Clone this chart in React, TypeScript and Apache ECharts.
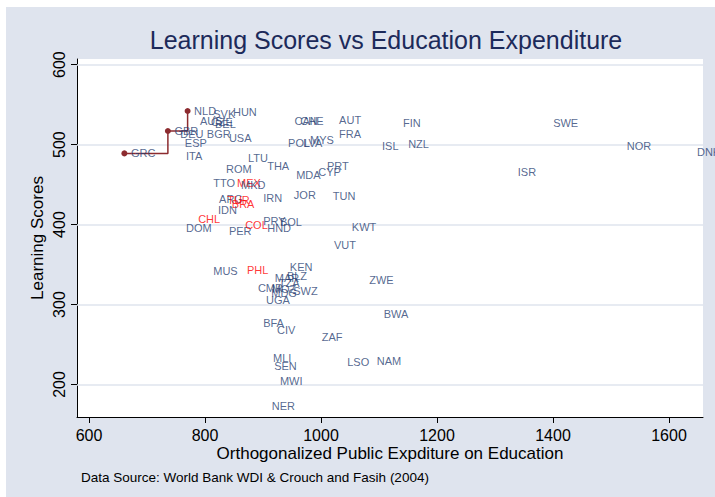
import React, { useEffect, useRef } from "react";
import * as echarts from "echarts";

const countries = [
  "GRC", "GBR", "NLD", "HUN", "AUS", "SVK", "CZE", "BEL", "DEU", "BGR", "USA", "ESP", "ITA",
  "LTU", "THA", "ROM", "TTO", "MEX", "MKD", "ARG", "TUR", "BRA", "IDN", "IRN", "JOR", "TUN",
  "MDA", "CYP", "PRT", "CHL", "DOM", "PER", "COL", "PRY", "BOL", "HND", "KWT", "VUT", "MUS",
  "PHL", "KEN", "BLZ", "MAR", "TZA", "CMR", "MOZ", "MDG", "SWZ", "UGA", "BFA", "CIV", "ZAF",
  "ZWE", "BWA", "LSO", "NAM", "MLI", "SEN", "MWI", "NER", "AUT", "FRA", "CAN", "CHE", "POL",
  "LVA", "MYS", "FIN", "ISL", "NZL", "SWE", "NOR", "DNK", "ISR",
];
const expenditure = [
  661, 736, 770, 837, 780, 803, 799, 806, 746, 792, 830, 754, 756,
  863, 896, 825, 803, 844, 851, 813, 827, 835, 811, 889, 942, 1009,
  946, 984, 999, 777, 756, 830, 858, 889, 918, 896, 1042, 1011, 803,
  861, 935, 930, 909, 916, 880, 904, 903, 941, 894, 889, 913, 990,
  1072, 1097, 1034, 1085, 906, 908, 918, 904, 1020, 1020, 943, 953, 932,
  958, 970, 1130, 1094, 1139, 1389, 1516, 1637, 1328,
];
const scores = [
  489, 517, 542, 541, 529, 538, 528, 526, 513, 513, 508, 502, 486,
  483, 473, 469, 452, 452, 449, 432, 431, 426, 418, 433, 437, 436,
  462, 466, 473, 407, 396, 392, 399, 404, 403, 396, 397, 374, 342,
  343, 347, 336, 333, 327, 321, 319, 314, 317, 306, 277, 268, 259,
  331, 288, 228, 229, 233, 223, 204, 173, 531, 513, 529, 529, 502,
  502, 506, 527, 498, 501, 527, 498, 491, 466,
];
const redCountries = ["MEX", "BRA", "CHL", "COL", "PHL", "TUR"];
const stepCountries = ["GRC", "GBR", "NLD"];
const xTicks = [600, 800, 1000, 1200, 1400, 1600];
const yTicks = [200, 300, 400, 500, 600];

const BG = "#dfe4ee";
const NAVY = "#2a3f73";
const MAROON = "#8c2b2f";
const FONT = "'Liberation Sans', Arial, sans-serif";

export default function App() {
  const ref = useRef<HTMLDivElement>(null);
  useEffect(() => {
    document.body.style.margin = "0";
    if (!ref.current) return;
    const chart = echarts.init(ref.current, null, { renderer: "svg" });
    const scatterData = countries.map((c, i) => ({
      name: c,
      value: [expenditure[i], scores[i]],
      label: { color: redCountries.includes(c) ? "#ff0000" : NAVY },
    }));
    const stepData = stepCountries.map((c) => {
      const i = countries.indexOf(c);
      return [expenditure[i], scores[i]];
    });
    chart.setOption({
      animation: false,
      backgroundColor: "transparent",
      grid: {
        left: 77,
        top: 59,
        width: 626,
        height: 358,
        show: true,
        backgroundColor: "#ffffff",
        borderWidth: 0,
      },
      xAxis: {
        type: "value",
        min: 579.3,
        max: 1658.6,
        axisLine: { show: true, onZero: false, lineStyle: { color: "#000", width: 1 } },
        axisTick: { show: true, length: 6, customValues: xTicks, lineStyle: { color: "#000" } },
        axisLabel: {
          customValues: xTicks,
          formatter: (v: number) => String(v),
          color: "#000",
          fontSize: 16,
          fontFamily: FONT,
          margin: 10,
        },
        splitLine: { show: false },
      },
      yAxis: {
        type: "value",
        min: 159.4,
        max: 607,
        axisLine: { show: true, onZero: false, lineStyle: { color: "#000", width: 1 } },
        axisTick: { show: true, length: 6, customValues: yTicks, lineStyle: { color: "#000" } },
        axisLabel: {
          customValues: yTicks,
          formatter: (v: number) => String(v),
          color: "#000",
          fontSize: 16,
          fontFamily: FONT,
          rotate: 90,
          margin: 10,
        },
        splitLine: { show: false },
      },
      series: [
        {
          type: "scatter",
          data: scatterData,
          symbolSize: 1,
          itemStyle: { color: "rgba(0,0,0,0)" },
          label: {
            show: true,
            position: "right",
            distance: 6,
            formatter: "{b}",
            fontSize: 11,
            fontFamily: FONT,
          },
          markLine: {
            silent: true,
            symbol: "none",
            label: { show: false },
            lineStyle: { color: BG, width: 1.5, type: "solid" },
            data: yTicks.map((v) => ({ yAxis: v })),
            z: 1,
          },
          z: 3,
        },
        {
          type: "line",
          data: stepData,
          step: "end",
          symbol: "circle",
          symbolSize: 6,
          itemStyle: { color: MAROON },
          lineStyle: { color: MAROON, width: 1.5 },
          z: 2,
        },
      ],
      graphic: [
        {
          type: "text",
          x: 386,
          y: 40,
          style: {
            text: "Learning Scores vs Education Expenditure",
            font: `25px ${FONT}`,
            fill: "#1c2a5a",
            textAlign: "center",
            textVerticalAlign: "middle",
            align: "center",
            verticalAlign: "middle",
          },
        },
        {
          type: "text",
          x: 390,
          y: 453,
          style: {
            text: "Orthogonalized Public Expditure on Education",
            font: `17px ${FONT}`,
            fill: "#000",
            textAlign: "center",
            textVerticalAlign: "middle",
            align: "center",
            verticalAlign: "middle",
          },
        },
        {
          type: "text",
          x: 37,
          y: 238,
          rotation: Math.PI / 2,
          style: {
            text: "Learning Scores",
            font: `17px ${FONT}`,
            fill: "#000",
            textAlign: "center",
            textVerticalAlign: "middle",
            align: "center",
            verticalAlign: "middle",
          },
        },
        {
          type: "text",
          x: 81,
          y: 477,
          style: {
            text: "Data Source: World Bank WDI & Crouch and Fasih (2004)",
            font: `13.5px ${FONT}`,
            fill: "#000",
            textAlign: "left",
            textVerticalAlign: "middle",
            align: "left",
            verticalAlign: "middle",
          },
        },
      ],
    });
    return () => chart.dispose();
  }, []);
  return (
    <div style={{ position: "relative", width: 715, height: 497, background: "#ffffff" }}>
      <div style={{ position: "absolute", left: 6, top: 7, width: 709, height: 490, background: BG }} />
      <div ref={ref} style={{ position: "absolute", left: 0, top: 0, width: 715, height: 497 }} />
    </div>
  );
}
